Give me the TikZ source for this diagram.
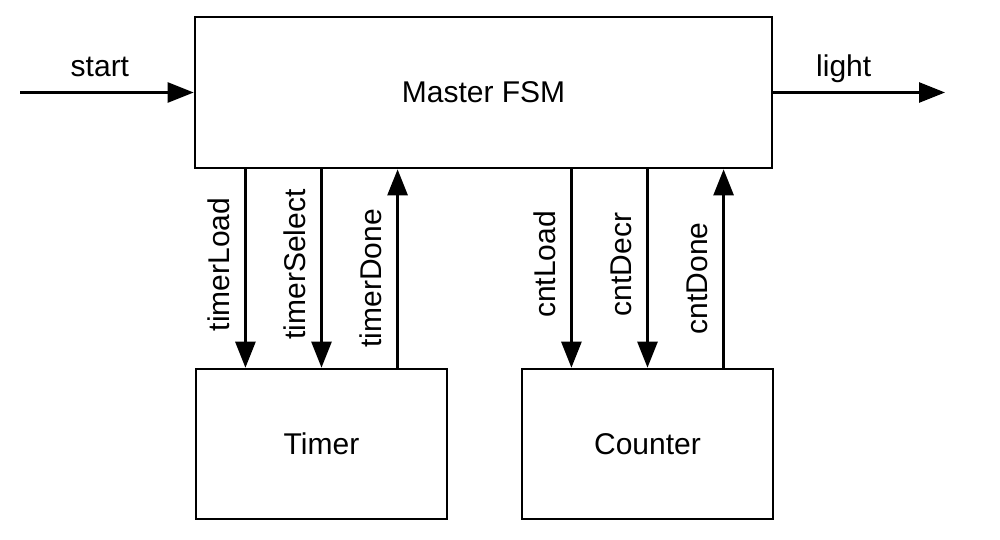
\documentclass[tikz,border=0pt]{standalone}
\usepackage{fontspec}
\setmainfont{Liberation Sans}
\usetikzlibrary{arrows.meta,calc}

\begin{document}
\begin{tikzpicture}[x=0.5pt, y=0.5pt,
  blk/.style={draw, line width=1.3pt, inner sep=0pt, font=\fontsize{15}{18}\selectfont},
  sig/.style={line width=1.3pt, -{Triangle[length=13pt,width=10pt]}},
  vlbl/.style={font=\fontsize{15}{18}\selectfont, rotate=90, anchor=south, inner sep=7pt},
  hlbl/.style={font=\fontsize{15}{18}\selectfont, anchor=base, yshift=8pt}]
  \useasboundingbox (0,0) rectangle (1000,540);

  % blocks
  \node[blk, minimum width=288.5pt, minimum height=75.5pt] (master) at (483.5,447.5) {Master FSM};
  \node[blk, minimum width=125.5pt, minimum height=75pt] (timer) at (321.5,96) {Timer};
  \node[blk, minimum width=125.5pt, minimum height=75pt] (counter) at (647.5,96) {Counter};

  % in / out
  \coordinate (in) at (20,447.5);
  \coordinate (out) at (945,447.5);
  \draw[sig] (in) -- node[hlbl, pos=0.46] {start} (master.west);
  \draw[sig] (master.east) -- node[hlbl, pos=0.41] {light} (out);

  % taps on top of the lower blocks
  \foreach \b in {timer,counter}
    \foreach \p/\n in {0.2/a,0.5/b,0.8/c}
      \coordinate (\b-\n) at ($(\b.north west)!\p!(\b.north east)$);

  % timer signals
  \draw[sig] (timer-a |- master.south) -- node[vlbl, pos=0.48] {timerLoad} (timer-a);
  \draw[sig] (timer-b |- master.south) -- node[vlbl, pos=0.48] {timerSelect} (timer-b);
  \draw[sig] (timer-c) -- node[vlbl, pos=0.45] {timerDone} (timer-c |- master.south);

  % counter signals
  \draw[sig] (counter-a |- master.south) -- node[vlbl, pos=0.48] {cntLoad} (counter-a);
  \draw[sig] (counter-b |- master.south) -- node[vlbl, pos=0.48] {cntDecr} (counter-b);
  \draw[sig] (counter-c) -- node[vlbl, pos=0.45] {cntDone} (counter-c |- master.south);
\end{tikzpicture}
\end{document}
